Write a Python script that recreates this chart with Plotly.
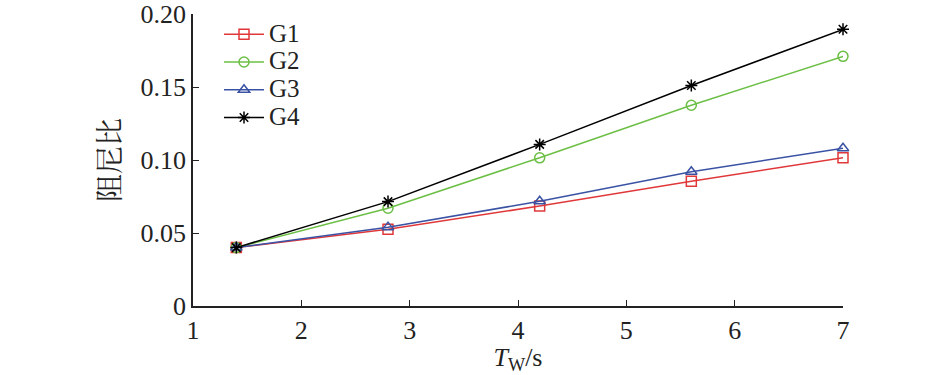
import plotly.graph_objects as go

tw = [1.4, 2.8, 4.2, 5.6, 7.0]
g1 = [0.040, 0.0525, 0.0685, 0.0855, 0.1015]
g2 = [0.040, 0.0670, 0.1015, 0.1375, 0.1710]
g3 = [0.040, 0.0540, 0.0717, 0.0920, 0.1080]
g4 = [0.040, 0.0715, 0.1107, 0.1510, 0.1895]

series = [
    ("G1", g1, "#E0383A", "square-open"),
    ("G2", g2, "#6CBF45", "circle-open"),
    ("G3", g3, "#3A52A4", "triangle-up-open"),
    ("G4", g4, "#000000", "asterisk-open"),
]

y_ticks = [0, 0.05, 0.10, 0.15, 0.20]
y_ticktext = ["0", "0.05", "0.10", "0.15", "0.20"]
x_ticks = [1, 2, 3, 4, 5, 6, 7]

fig = go.Figure()
for name, vals, col, sym in series:
    fig.add_trace(go.Scatter(
        x=tw, y=vals, name=f"<span style='font-size:25px'>{name}</span>",
        mode="lines+markers",
        line=dict(color=col, width=1.5),
        marker=dict(symbol=sym, size=10, color=col, line=dict(color=col, width=1.5)),
        cliponaxis=False,
    ))

font = dict(family="Liberation Serif, Times New Roman, serif", size=26, color="#222")

fig.update_layout(
    width=945, height=375,
    margin=dict(l=193, r=102, t=14, b=69, autoexpand=False),
    paper_bgcolor="white", plot_bgcolor="white",
    font=font,
    showlegend=True,
    legend=dict(x=0.04, y=0.995, xanchor="left", yanchor="top",
                bgcolor="rgba(0,0,0,0)", font=dict(size=19),
                tracegroupgap=0, itemwidth=40),
    xaxis=dict(range=[1, 7], tickvals=x_ticks, ticks="inside", ticklen=6,
               tickcolor="#222", showline=True, linecolor="#222", linewidth=1.5,
               showgrid=False, zeroline=False, automargin=False,
               ticklabeloverflow="allow",
               title=dict(text="<i>T</i><sub>W</sub>/s", standoff=0,
                          font=dict(size=26))),
    yaxis=dict(range=[0, 0.2], tickvals=y_ticks, ticktext=y_ticktext,
               ticks="inside", ticklen=6, tickcolor="#222",
               showline=True, linecolor="#222", linewidth=1.5,
               showgrid=False, zeroline=False, automargin=False,
               ticklabeloverflow="allow",
               title=dict(text="阻尼比", standoff=12,
                          font=dict(family="Noto Serif CJK SC, Noto Sans CJK SC", size=28))),
)

fig.write_html("out.html", config={"displayModeBar": False},
               post_script="document.body.style.margin='0';")
